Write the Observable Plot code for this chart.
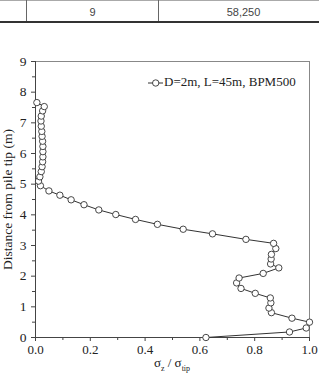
<!DOCTYPE html>
<html>
<head>
<meta charset="utf-8">
<script src="https://cdn.jsdelivr.net/npm/d3@7"></script>
<script src="https://cdn.jsdelivr.net/npm/@observablehq/plot@0.6"></script>
<style>
  html, body { margin: 0; padding: 0; background: #fff; }
  #wrap { position: relative; width: 319px; height: 373px; overflow: hidden; background: #fff; }
  #wrap > svg { position: absolute; left: 0; top: 0; }
  #wrap svg text { font-family: "Liberation Serif", "Times New Roman", Times, serif; }
  .tbl { position: absolute; left: 0; top: 0; width: 319px; height: 23px; font-family: "Liberation Sans", Arial, sans-serif; font-size: 11px; color: #444; }
  .tbl .top { position: absolute; left: 0; top: 0; width: 319px; height: 1px; background: #aaa; }
  .tbl .bot { position: absolute; left: 0; top: 21px; width: 319px; height: 2px; background: #333; }
  .tbl .v { position: absolute; top: 0; width: 1px; height: 22px; background: #666; }
  .tbl .c { position: absolute; top: 5px; text-align: center; line-height: 14px; }
  .legend { position: absolute; left: 147px; top: 74px; line-height: 15px; font-family: "Liberation Serif", "Times New Roman", Times, serif; font-size: 13px; color: #222; white-space: nowrap; }
  .legend svg { vertical-align: middle; }
  .xlab { position: absolute; left: 0; width: 344px; top: 356px; line-height: 14px; text-align: center; font-family: "Liberation Serif", "Times New Roman", Times, serif; font-size: 13px; color: #222; }
  .xlab sub { font-size: 8px; line-height: 0; }
</style>
</head>
<body>
<div id="wrap"></div>
<script>
// Table fragment above the chart
const tableCells = ["9", "58,250"];

// Series: normalized stress vs distance from pile tip
const seriesName = "D=2m, L=45m, BPM500";
const stressRatio = [0.622, 0.927, 0.988, 1.0, 0.936, 0.861, 0.852, 0.859, 0.857, 0.802,
  0.750, 0.734, 0.743, 0.831, 0.888, 0.858, 0.860, 0.861, 0.877, 0.869,
  0.768, 0.646, 0.539, 0.445, 0.365, 0.293, 0.231, 0.177, 0.130, 0.089,
  0.049, 0.018, 0.011, 0.016, 0.021, 0.024, 0.026, 0.027, 0.027, 0.027,
  0.026, 0.024, 0.023, 0.021, 0.020, 0.021, 0.026, 0.032, 0.005];
const distance = [0, 0.18, 0.31, 0.50, 0.63, 0.81, 0.96, 1.13, 1.29, 1.44,
  1.60, 1.78, 1.94, 2.09, 2.27, 2.40, 2.56, 2.71, 2.90, 3.07,
  3.20, 3.38, 3.53, 3.69, 3.85, 4.01, 4.16, 4.33, 4.49, 4.64,
  4.78, 4.95, 5.10, 5.24, 5.41, 5.57, 5.73, 5.89, 6.06, 6.23,
  6.40, 6.56, 6.72, 6.89, 7.06, 7.22, 7.39, 7.53, 7.66];

const xTicks = [0, 0.2, 0.4, 0.6, 0.8, 1.0];
const xMinor = [0.1, 0.3, 0.5, 0.7, 0.9];
const yTicks = [0, 1, 2, 3, 4, 5, 6, 7, 8, 9];
const yMinor = [0.5, 1.5, 2.5, 3.5, 4.5, 5.5, 6.5, 7.5, 8.5];
const yLabel = "Distance from pile tip (m)";

const data = stressRatio.map((v, i) => ({x: v, y: distance[i]}));

const chart = Plot.plot({
  width: 319,
  height: 373,
  marginLeft: 35,
  marginRight: 10,
  marginTop: 61,
  marginBottom: 36,
  style: {fontFamily: "'Liberation Serif', 'Times New Roman', Times, serif", fontSize: "13px", color: "#222", background: "transparent", overflow: "visible"},
  x: {domain: [0, 1]},
  y: {domain: [0, 9]},
  marks: [
    Plot.frame({stroke: "#888", strokeWidth: 1}),
    Plot.axisX({ticks: xTicks, tickFormat: d3.format(".1f"), tickSize: 4, tickPadding: 3, label: null, stroke: "#444"}),
    Plot.axisX({ticks: xMinor, tickSize: 3, text: null, label: null, stroke: "#444"}),
    Plot.axisY({ticks: yTicks, tickFormat: d3.format("d"), tickSize: 4, tickPadding: 5, label: yLabel, labelAnchor: "center", labelArrow: "none", labelOffset: 33, stroke: "#444", fontSize: 13.5}),
    Plot.axisY({ticks: yMinor, tickSize: 3, text: null, label: null, stroke: "#444"}),
    Plot.ruleX([0], {stroke: "#444", strokeWidth: 1}),
    Plot.ruleY([0], {stroke: "#444", strokeWidth: 1}),
    Plot.line(data, {x: "x", y: "y", stroke: "#333", strokeWidth: 1}),
    Plot.dot(data, {x: "x", y: "y", r: 3.2, fill: "white", stroke: "#333", strokeWidth: 0.9})
  ]
});

const wrap = document.getElementById("wrap");
wrap.appendChild(chart);

// table fragment
const tbl = document.createElement("div");
tbl.className = "tbl";
tbl.innerHTML = `<div class="top"></div><div class="v" style="left:26px"></div><div class="v" style="left:158px"></div><div class="bot"></div>
<div class="c" style="left:27px;width:131px">${tableCells[0]}</div>
<div class="c" style="left:159px;width:169px">${tableCells[1]}</div>`;
wrap.appendChild(tbl);

// legend
const leg = document.createElement("div");
leg.className = "legend";
leg.innerHTML = `<svg width="16" height="10" style="margin-right:1px"><line x1="1" y1="5" x2="16" y2="5" stroke="#333" stroke-width="1"/><circle cx="8.7" cy="5" r="3.2" fill="white" stroke="#333" stroke-width="0.9"/></svg>${seriesName}`;
wrap.appendChild(leg);

// x label
const xl = document.createElement("div");
xl.className = "xlab";
xl.innerHTML = `σ<sub>z</sub> / σ<sub>tip</sub>`;
wrap.appendChild(xl);
</script>
</body>
</html>
